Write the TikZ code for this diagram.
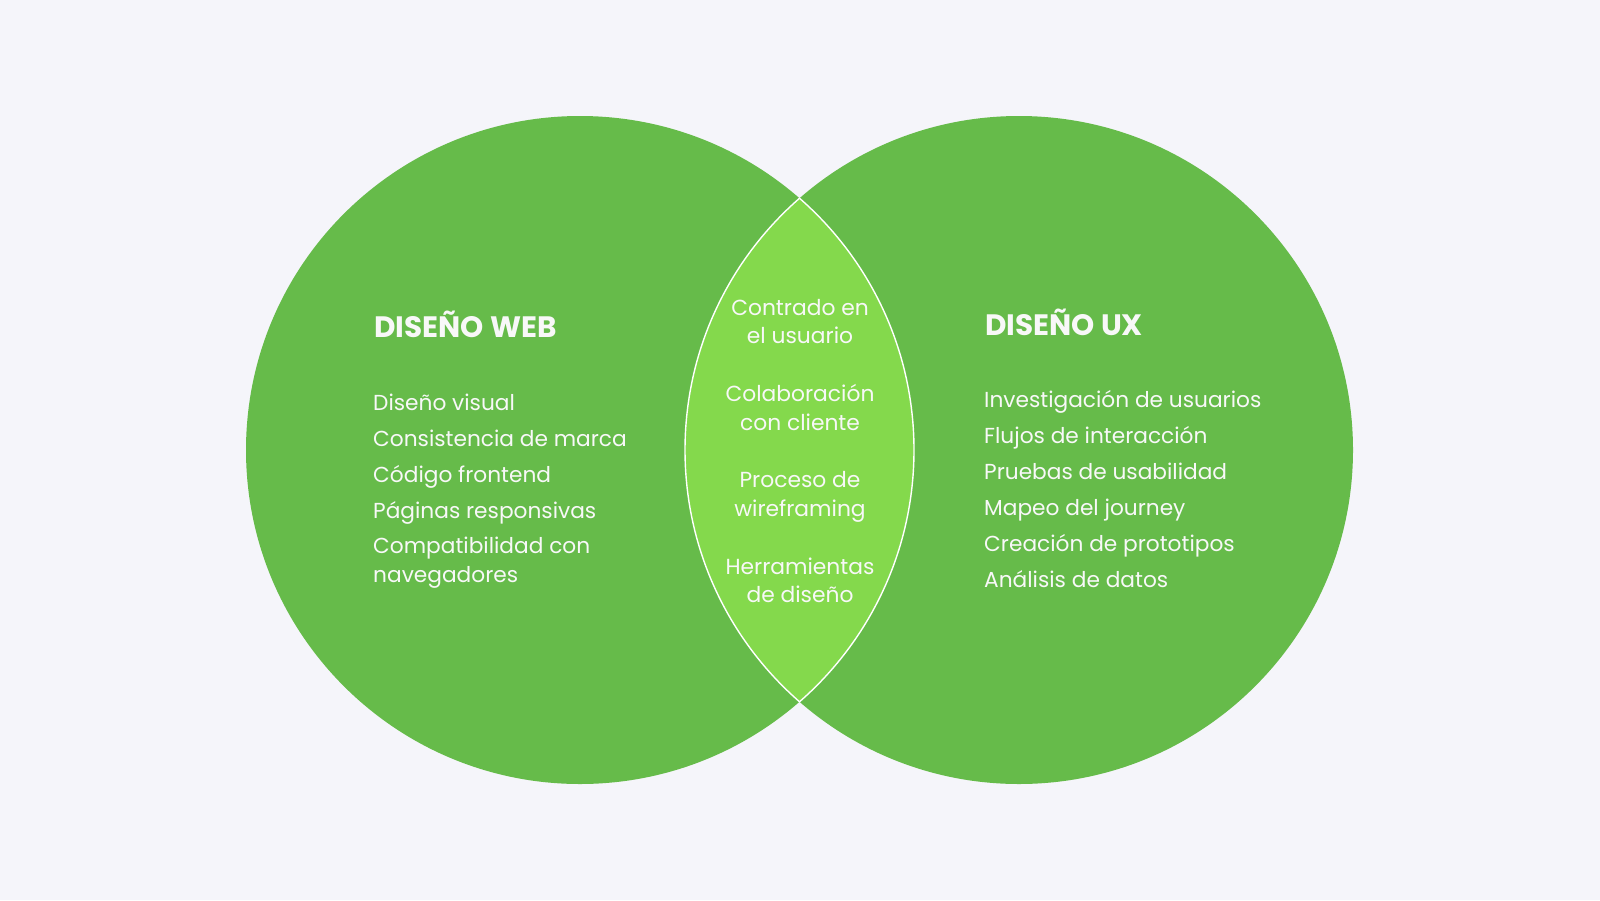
\documentclass[tikz,border=0pt]{standalone}
\usepackage{fontspec}
\setmainfont{Poppins}
\definecolor{bg}{HTML}{F5F5FA}
\definecolor{circ}{HTML}{66BB4A}
\definecolor{lensc}{HTML}{84D94C}
\definecolor{txt}{HTML}{F8F8F8}
\begin{document}
\begin{tikzpicture}[x=1pt,y=-1pt,
  head/.style={anchor=base west,inner sep=0,text=txt,font=\fontsize{29.5}{34}\selectfont\bfseries},
  item/.style={anchor=base west,inner sep=0,text=txt,font=\fontsize{21.7}{29}\selectfont,align=left},
  midtext/.style={anchor=base,inner sep=0,text=txt,font=\fontsize{21.8}{28.6}\selectfont,align=center},
  outline/.style={draw=white,line width=1.4pt}]
\fill[bg] (0,0) rectangle (1600,900);
\useasboundingbox (0,0) rectangle (1600,900);
% circles
\fill[circ] (580,450) circle (334);
\fill[circ] (1019,450) circle (334);
\begin{scope}
  \clip (580,450) circle (334);
  \fill[lensc] (1019,450) circle (334);
  \draw[outline] (1019,450) circle (334);
\end{scope}
\begin{scope}
  \clip (1019,450) circle (334);
  \draw[outline] (580,450) circle (334);
\end{scope}
% left
\node[head] (hw) at (374,337) {DISEÑO WEB};
\node[item] (w1) at (373,410) {Diseño visual};
\node[item] (w2) at (373,446) {Consistencia de marca};
\node[item] (w3) at (373,482) {Código frontend};
\node[item] (w4) at (373,518) {Páginas responsivas};
\node[item] (w5) at (373,582) {Compatibilidad con\\navegadores};
% right
\node[head] (hu) at (985,335) {DISEÑO UX};
\node[item] (u1) at (984,407) {Investigación de usuarios};
\node[item] (u2) at (984,443) {Flujos de interacción};
\node[item] (u3) at (984,479) {Pruebas de usabilidad};
\node[item] (u4) at (984,515) {Mapeo del journey};
\node[item] (u5) at (984,551) {Creación de prototipos};
\node[item] (u6) at (984,587) {Análisis de datos};
% center
\node[midtext] (c1) at (800,343.6) {Contrado en\\el usuario};
\node[midtext] (c2) at (800,430) {Colaboración\\con cliente};
\node[midtext] (c3) at (800,516.4) {Proceso de\\wireframing};
\node[midtext] (c4) at (800,602.8) {Herramientas\\de diseño};
\end{tikzpicture}
\end{document}
